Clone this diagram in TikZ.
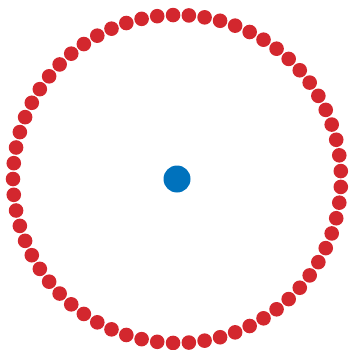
\documentclass[tikz,border=0pt]{standalone}
\usepackage{xcolor}
\usepackage{tikz}
\usetikzlibrary{calc}
\definecolor{ringred}{RGB}{211,39,46}
\definecolor{hubblue}{RGB}{0,114,189}

\begin{document}
\begin{tikzpicture}[x=1pt,y=-1pt]
      \useasboundingbox (0,0) rectangle (348,350);
      \node[circle,fill=hubblue,inner sep=0pt,minimum size=27pt] (hub) at(177,179){};
      \foreach \k in {0,...,64}
        \node[circle,fill=ringred,inner sep=0pt,minimum size=14.6pt] (dot\k) at($(hub)+(180+360/65*\k:164)$){};
    \end{tikzpicture}
\end{document}
